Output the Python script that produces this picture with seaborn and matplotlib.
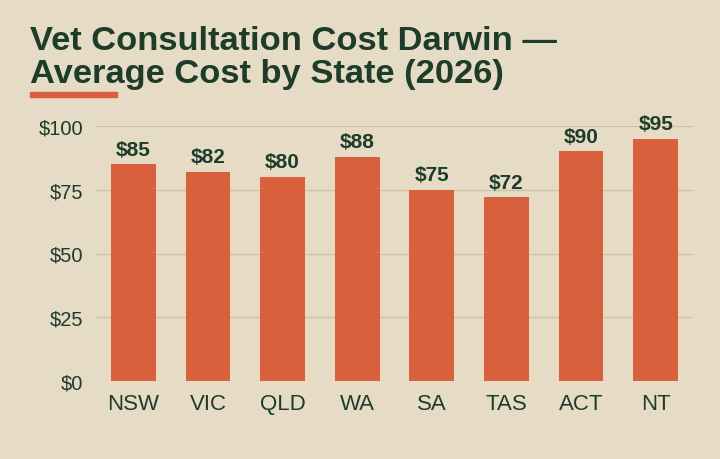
import matplotlib
matplotlib.use('Agg')
import matplotlib.pyplot as plt
import seaborn as sns
import pandas as pd

# 数据
states = ['NSW', 'VIC', 'QLD', 'WA', 'SA', 'TAS', 'ACT', 'NT']
costs = [85, 82, 80, 88, 75, 72, 90, 95]
y_ticks = [0, 25, 50, 75, 100]

bg = '#e6dbc5'
bar_color = '#d9603c'
ink = '#1d3d2b'
grid_color = '#cfc3a6'

sns.set_theme(style='white')
plt.rcParams['font.family'] = ['Liberation Sans', 'DejaVu Sans']

df = pd.DataFrame({'state': states, 'cost': costs})

fig = plt.figure(figsize=(7.2, 4.6), dpi=100, facecolor=bg)
ax = fig.add_axes([96 / 720, 1 - 382 / 460, 597 / 720, 255 / 460])
ax.set_facecolor(bg)

sns.barplot(data=df, x='state', y='cost', color=bar_color, width=0.6,
            saturation=1, linewidth=0, ax=ax, zorder=3)

ax.set_ylim(0, 100)
ax.set_xlim(-0.5, len(states) - 0.5)
ax.set_yticks(y_ticks)
ax.set_yticklabels(['$' + str(v) for v in y_ticks])
ax.yaxis.grid(True, color=grid_color, linewidth=1, zorder=0)
ax.set_axisbelow(True)
for s in ax.spines.values():
    s.set_visible(False)
ax.tick_params(axis='y', length=0, pad=9, labelsize=14.5, labelcolor=ink)
ax.tick_params(axis='x', length=0, pad=9, labelsize=16, labelcolor=ink)
ax.set_xlabel('')
ax.set_ylabel('')

# 数值标签
for i, v in enumerate(costs):
    ax.annotate('$' + str(v), (i, v), xytext=(0, 4), textcoords='offset points',
                ha='center', va='bottom', fontsize=15, fontweight='bold',
                color=ink, clip_on=False)

# 标题和下划线
fig.text(30 / 720, 1 - 50 / 460, 'Vet Consultation Cost Darwin —',
         fontsize=24.8, fontweight='bold', color=ink, ha='left', va='baseline')
fig.text(30 / 720, 1 - 83.5 / 460, 'Average Cost by State (2026)',
         fontsize=24.8, fontweight='bold', color=ink, ha='left', va='baseline')
fig.patches.append(plt.Rectangle((30 / 720, 1 - 97.5 / 460), 87 / 720, 4.5 / 460,
                                 transform=fig.transFigure, color=bar_color))

fig.savefig('out.png', dpi=100, facecolor=bg)
